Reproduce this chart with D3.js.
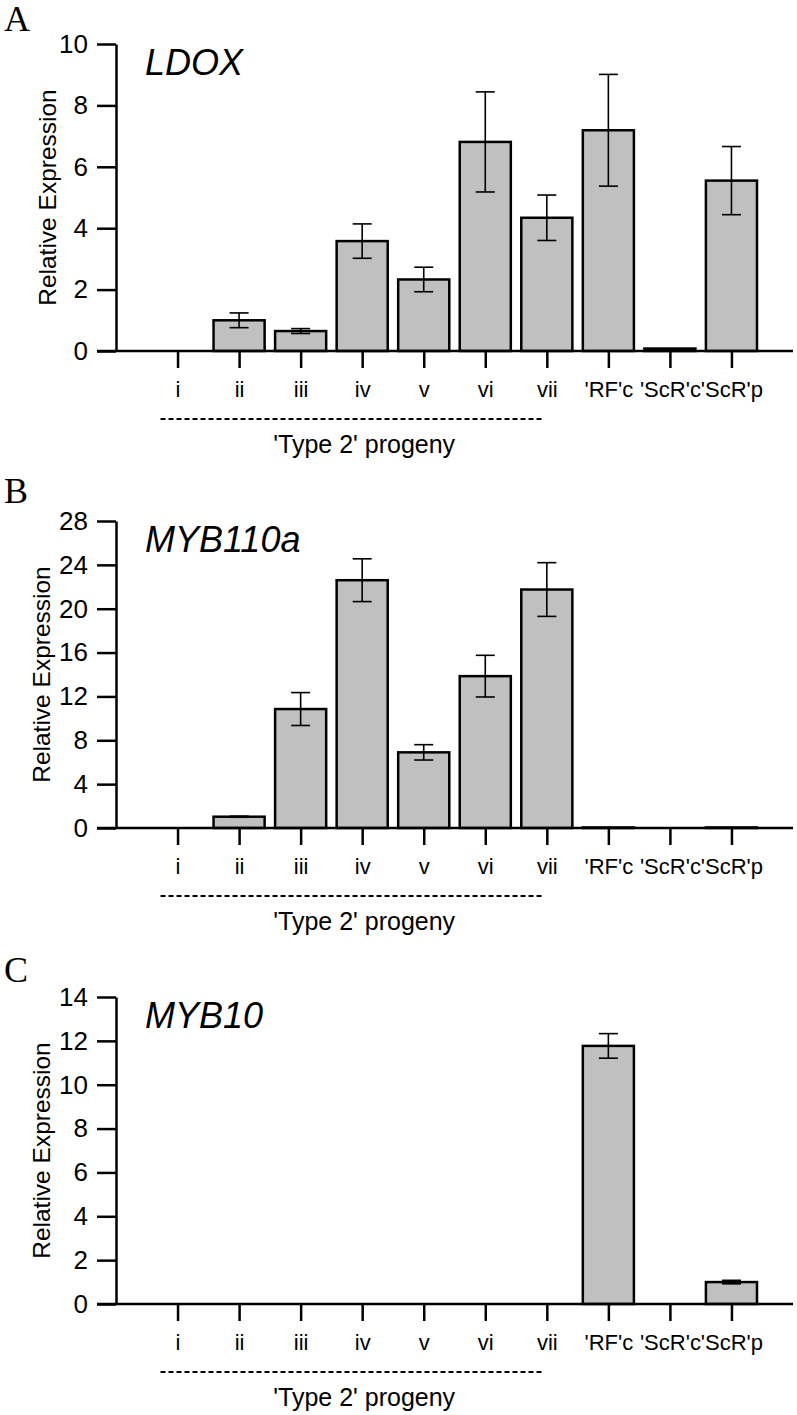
<!DOCTYPE html>
<html>
<head>
<meta charset="utf-8">
<script src="https://cdn.jsdelivr.net/npm/d3@7"></script>
<style>
  body { margin: 0; background: #fff; }
  text { font-family: "Liberation Sans", Arial, sans-serif; fill: #000; }
</style>
</head>
<body>
<script>
// data
const categories = ["i", "ii", "iii", "iv", "v", "vi", "vii", "'RF'c", "'ScR'c", "'ScR'p"];

const ldoxMean = [0, 1.0, 0.65, 3.58, 2.33, 6.81, 4.34, 7.19, 0.08, 5.55];
const ldoxErr  = [0, 0.24, 0.08, 0.56, 0.40, 1.63, 0.74, 1.82, 0, 1.11];

const myb110aMean = [0, 1.03, 10.85, 22.6, 6.9, 13.85, 21.75, 0.05, 0, 0.05];
const myb110aErr  = [0, 0.05, 1.5, 1.95, 0.7, 1.9, 2.45, 0, 0, 0];

const myb10Mean = [0, 0, 0, 0, 0, 0, 0, 11.77, 0, 1.0];
const myb10Err  = [0, 0, 0, 0, 0, 0, 0, 0.56, 0, 0.08];

const ldoxTicks = [0, 2, 4, 6, 8, 10];
const myb110aTicks = [0, 4, 8, 12, 16, 20, 24, 28];
const myb10Ticks = [0, 2, 4, 6, 8, 10, 12, 14];

const geneNames = ["LDOX", "MYB110a", "MYB10"];
const panelLetters = ["A", "B", "C"];
const yTitle = "Relative Expression";
const groupLabel = "'Type 2' progeny";
const progenyCount = 7; // first 7 categories are the progeny

let svg = null;
let x = null;

const panels = [
  {letter: panelLetters[0], gene: geneNames[0], mean: ldoxMean, err: ldoxErr, ticks: ldoxTicks, top: 44, letterY: 31, labelX: 56},
  {letter: panelLetters[1], gene: geneNames[1], mean: myb110aMean, err: myb110aErr, ticks: myb110aTicks, top: 521, letterY: 503, labelX: 50},
  {letter: panelLetters[2], gene: geneNames[2], mean: myb10Mean, err: myb10Err, ticks: myb10Ticks, top: 997, letterY: 982, labelX: 50}
];

const plotH = 307;
const axisX = 116, axisRight = 793;

appendSvg("body");
setupXScale();
panels.forEach(drawPanel);

function appendSvg(domElement) {
  svg = d3.select(domElement).append("svg")
    .attr("width", 797)
    .attr("height", 1415);
}

function setupXScale() {
  x = d3.scalePoint()
    .domain(categories)
    .range([axisX, axisRight])
    .padding(1);
}

function drawPanel(p) {
  const g = svg.append("g");
  const maxV = d3.max(p.ticks);

  const y = d3.scaleLinear()
    .domain([0, maxV])
    .range([p.top + plotH, p.top]);

  const barW = x.step() * 0.83;
  const rows = categories.map((c, i) => ({c: c, v: p.mean[i], e: p.err[i]}));

  // bars
  g.selectAll("rect.bar")
    .data(rows.filter(d => d.v > 0))
    .enter().append("rect")
      .attr("class", "bar")
      .attr("x", d => x(d.c) - barW / 2)
      .attr("y", d => y(d.v))
      .attr("width", barW)
      .attr("height", d => y(0) - y(d.v))
      .attr("fill", "#c0c0c0")
      .attr("stroke", "#000")
      .attr("stroke-width", 2.5);

  // error bars
  const eg = g.selectAll("g.err").data(rows.filter(d => d.e > 0)).enter().append("g")
    .attr("stroke", "#000").attr("stroke-width", 1.6);
  eg.append("line")
    .attr("x1", d => x(d.c)).attr("x2", d => x(d.c))
    .attr("y1", d => y(d.v + d.e)).attr("y2", d => y(d.v - d.e));
  eg.append("line")
    .attr("x1", d => x(d.c) - 9.5).attr("x2", d => x(d.c) + 9.5)
    .attr("y1", d => y(d.v + d.e)).attr("y2", d => y(d.v + d.e));
  eg.append("line")
    .attr("x1", d => x(d.c) - 9.5).attr("x2", d => x(d.c) + 9.5)
    .attr("y1", d => y(d.v - d.e)).attr("y2", d => y(d.v - d.e));

  // y axis
  const yAxis = g.append("g")
    .attr("transform", "translate(" + axisX + ",0)")
    .call(d3.axisLeft(y).tickValues(p.ticks).tickSize(19).tickSizeOuter(0).tickPadding(9));
  yAxis.selectAll("path, line").attr("stroke", "#000").attr("stroke-width", 2.5);
  yAxis.selectAll("text").style("font-size", "26px").attr("fill", "#000");

  // x axis
  const xAxis = g.append("g")
    .attr("transform", "translate(0," + y(0) + ")")
    .call(d3.axisBottom(x).tickSize(17).tickSizeOuter(0).tickPadding(13));
  xAxis.select("path.domain").remove();
  xAxis.append("line")
    .attr("x1", axisX - 19).attr("x2", axisRight)
    .attr("stroke", "#000").attr("stroke-width", 2.5);
  xAxis.selectAll("line").attr("stroke", "#000").attr("stroke-width", 2.5);
  xAxis.selectAll("text").style("font-size", "22px").attr("fill", "#000");

  // dashed bracket + group label
  const x0 = x(categories[0]) - 17;
  const x1 = x(categories[progenyCount - 1]) - 4;
  g.append("line")
    .attr("x1", x0).attr("x2", x1)
    .attr("y1", y(0) + 68).attr("y2", y(0) + 68)
    .attr("stroke", "#000").attr("stroke-width", 2)
    .attr("stroke-dasharray", "5,3");
  g.append("text")
    .attr("x", x(categories[3]) + 2)
    .attr("y", y(0) + 102)
    .attr("text-anchor", "middle")
    .style("font-size", "25px")
    .text(groupLabel);

  // y title
  g.append("text")
    .attr("transform", "translate(" + p.labelX + "," + (p.top + plotH / 2) + ") rotate(-90)")
    .attr("text-anchor", "middle")
    .style("font-size", "24.5px")
    .text(yTitle);

  // gene name
  g.append("text")
    .attr("x", 145)
    .attr("y", p.top + 31)
    .style("font-size", "36px")
    .style("font-style", "italic")
    .text(p.gene);

  // panel letter
  g.append("text")
    .attr("x", 4)
    .attr("y", p.letterY)
    .style("font-family", "'Liberation Serif', 'Times New Roman', serif")
    .style("font-size", "36px")
    .text(p.letter);
}
</script>
</body>
</html>
